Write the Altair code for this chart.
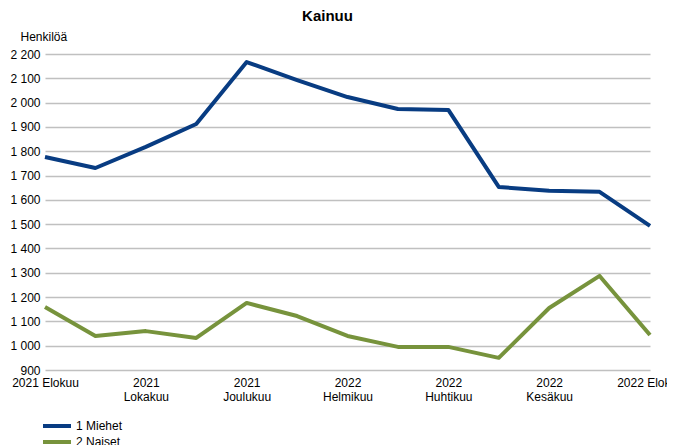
import altair as alt
import pandas as pd

months = ["2021 Elokuu", "2021 Syyskuu", "2021 Lokakuu", "2021 Marraskuu", "2021 Joulukuu",
          "2022 Tammikuu", "2022 Helmikuu", "2022 Maaliskuu", "2022 Huhtikuu", "2022 Toukokuu",
          "2022 Kesäkuu", "2022 Heinäkuu", "2022 Elokuu"]
tick_months = ["2021 Elokuu", "2021 Lokakuu", "2021 Joulukuu", "2022 Helmikuu",
               "2022 Huhtikuu", "2022 Kesäkuu", "2022 Elokuu"]
miehet = [1776, 1731, 1818, 1912, 2167, 2093, 2023, 1974, 1970, 1653, 1637, 1633, 1493]
naiset = [1159, 1040, 1060, 1032, 1176, 1122, 1040, 995, 995, 950, 1155, 1287, 1044]
series = ["1 Miehet", "2 Naiset"]
colors = ["#083c82", "#77933c"]
y_ticks = list(range(900, 2201, 100))

rows = []
for m, v in zip(months, miehet):
    rows.append({"kk": m, "sarja": series[0], "arvo": v})
for m, v in zip(months, naiset):
    rows.append({"kk": m, "sarja": series[1], "arvo": v})
df = pd.DataFrame(rows)

FONT = "Liberation Sans"

x_label_expr = (
    "datum.label == '" + months[0] + "' || datum.label == '" + months[-1] +
    "' ? datum.label : split(datum.label, ' ')"
)

chart = alt.Chart(df).mark_line(strokeWidth=4, strokeJoin="round").encode(
    x=alt.X("kk:O", sort=months,
            scale=alt.Scale(type="point", padding=0),
            axis=alt.Axis(title=None, values=tick_months, labelAngle=0,
                          labelExpr=x_label_expr, domain=False, ticks=False,
                          grid=False, labelPadding=7, labelFont=FONT,
                          labelFontSize=12, labelColor="#000000",
                          labelLineHeight=14, labelOverlap=False,
                          labelBound=False, labelFlush=False)),
    y=alt.Y("arvo:Q", scale=alt.Scale(domain=[900, 2200], nice=False, zero=False),
            axis=alt.Axis(values=y_ticks, title="Henkilöä", titleAngle=0,
                          titleX=-25, titleY=-11, titleAlign="left",
                          titleBaseline="bottom", titleFont=FONT,
                          titleFontSize=12, titleFontWeight="normal",
                          titleColor="#000000",
                          labelExpr="replace(format(datum.value, ','), ',', ' ')",
                          labelFont=FONT, labelFontSize=12, labelColor="#000000",
                          labelPadding=5, domain=False, ticks=False,
                          gridColor="#c0c0c0", gridWidth=1.5)),
    color=alt.Color("sarja:N", scale=alt.Scale(domain=series, range=colors),
                    legend=alt.Legend(title=None, orient="none", legendX=-4,
                                      legendY=364, symbolType="M-1,0H3.67",
                                      symbolSize=144, symbolStrokeWidth=4,
                                      labelFont=FONT, labelFontSize=12,
                                      labelColor="#000000", rowPadding=0,
                                      labelOffset=19)),
).properties(
    width=605, height=316,
    title=alt.TitleParams("Kainuu", font=FONT, fontSize=15, fontWeight="bold",
                          color="#000000", anchor="middle", dx=-20, offset=6),
    autosize=alt.AutoSizeParams(type="none"),
    padding={"left": 37, "top": 46, "right": 17, "bottom": 75},
).configure_view(stroke=None)

chart.save("out.html", embed_options={"renderer": "svg", "actions": False})
